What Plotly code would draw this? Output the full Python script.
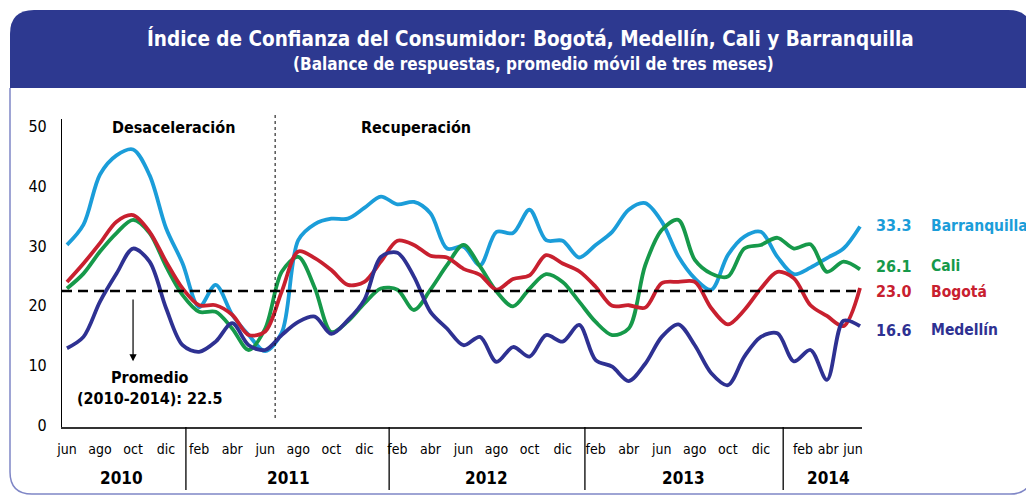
import plotly.graph_objects as go

# ---------------- data (3-month moving average, Jun-2010 .. Jun-2014) ----------------
periodos = [f"{y}-{m:02d}" for y in range(2010, 2015) for m in range(1, 13)
            if (y, m) >= (2010, 6) and (y, m) <= (2014, 6)]

barranquilla = [30.2, 33.6, 42.0, 45.2, 46.2, 41.9, 33.0, 27.1, 19.8, 23.5, 18.5, 15.1,
                12.4, 15.5, 31.0, 33.7, 34.6, 34.6, 36.4, 38.3, 37.0, 37.4, 35.5, 29.6,
                29.9, 26.8, 32.4, 32.2, 36.1, 31.0, 30.9, 28.1, 30.2, 32.4, 36.1, 37.2,
                34.1, 28.3, 24.6, 22.7, 28.5, 31.6, 32.4, 28.2, 25.3, 26.4, 28.0, 29.6,
                33.3]
bogota = [24.0, 27.1, 30.5, 34.1, 35.2, 32.4, 27.4, 22.9, 20.1, 20.1, 18.5, 15.1,
          15.7, 22.4, 29.1, 28.0, 26.0, 23.5, 24.0, 27.4, 30.9, 30.2, 28.4, 28.1,
          26.2, 25.2, 22.7, 24.5, 25.1, 28.5, 27.1, 25.8, 23.2, 20.0, 20.1, 19.7,
          23.8, 24.0, 24.0, 19.6, 16.9, 19.3, 22.9, 25.7, 24.6, 20.1, 18.3, 16.6,
          23.0]
cali = [22.9, 25.4, 29.1, 32.2, 34.4, 32.2, 26.6, 21.8, 19.0, 19.0, 16.2, 12.6,
        16.2, 25.7, 28.2, 23.0, 15.6, 17.4, 20.4, 22.9, 22.7, 19.3, 22.7, 26.8,
        30.2, 26.6, 22.4, 19.9, 22.9, 25.3, 24.0, 20.7, 17.3, 15.1, 16.2, 26.8,
        32.7, 34.4, 27.7, 25.4, 24.9, 29.6, 30.2, 31.4, 29.6, 30.3, 25.7, 27.4,
        26.1]
medellin = [12.9, 14.8, 20.7, 25.4, 29.6, 27.4, 19.6, 13.4, 12.3, 14.0, 17.1, 13.4,
            12.6, 15.1, 17.3, 18.2, 15.3, 17.6, 21.0, 28.2, 28.9, 24.9, 19.0, 16.2,
            13.4, 14.8, 10.6, 13.1, 11.5, 15.1, 14.0, 16.8, 10.9, 9.8, 7.4, 10.3,
            14.8, 16.9, 13.4, 8.7, 6.7, 11.5, 14.8, 15.4, 10.7, 12.6, 7.6, 17.5,
            16.6]
promedio = 22.5

series_names = ["Barranquilla", "Cali", "Bogotá", "Medellín"]
series_values = [barranquilla, cali, bogota, medellin]

mes_labels = (["jun", "ago", "oct", "dic"] + ["feb", "abr", "jun", "ago", "oct", "dic"] * 3
              + ["feb", "abr", "jun"])
anio_labels = ["2010", "2011", "2012", "2013", "2014"]

# ---------------- styling / layout helpers ----------------
colors = {"Barranquilla": "#1B9DD9", "Cali": "#16994A",
          "Bogotá": "#C8202F", "Medellín": "#2E3192"}
FONT = "'DejaVu Sans Condensed', 'Liberation Sans Narrow', 'Roboto Condensed', 'DejaVu Sans', sans-serif"
W, H = 1034, 498
OFF = 8  # default page body margin
PL, PT, PR, PB = 62, 119, 862, 427
L, T = PL - OFF, PT - OFF
R, B = W - (PR - OFF), H - (PB - OFF)
PW, PH = PR - PL, PB - PT


def X(px):
    return (px - PL) / PW


def Y(py):
    return (PB - py) / PH


xi = list(range(len(periodos)))

mes_pos = [0, 2, 4, 6] + [8 + 2 * k for k in range(18)] + [44.55, 46.07, 47.58]
anio_pos = [3.33, 13.4, 25.4, 37.3, 46.07]
sep_pos = [7.2, 19.5, 31.35, 43.35]

fig = go.Figure()
for name, vals in zip(series_names, series_values):
    fig.add_trace(go.Scatter(x=xi, y=vals, mode="lines", name=name,
                             line=dict(color=colors[name], width=3.8, shape="spline", smoothing=0.9),
                             hoverinfo="x+y+name"))

shapes = []
band = (f"M {X(10)},{Y(88)} L {X(10)},{Y(34)} Q {X(10)},{Y(10)} {X(34)},{Y(10)} "
        f"L {X(1008)},{Y(10)} Q {X(1032)},{Y(10)} {X(1032)},{Y(34)} L {X(1032)},{Y(88)} Z")
shapes.append(dict(type="path", xref="paper", yref="paper", path=band,
                   fillcolor="#2D3990", line=dict(width=0), layer="below"))
frame = (f"M {X(10)},{Y(88)} L {X(10)},{Y(472)} Q {X(10)},{Y(494)} {X(32)},{Y(494)} "
         f"L {X(1010)},{Y(494)} Q {X(1032)},{Y(494)} {X(1032)},{Y(472)} L {X(1032)},{Y(88)}")
shapes.append(dict(type="path", xref="paper", yref="paper", path=frame,
                   line=dict(color="#7F86C6", width=1.5), layer="below"))
shapes.append(dict(type="line", xref="paper", yref="y", x0=0, x1=1, y0=promedio, y1=promedio,
                   line=dict(color="black", width=2.5, dash="10px,6px")))
shapes.append(dict(type="line", xref="x", yref="paper", x0=12.6, x1=12.6, y0=Y(418), y1=Y(115),
                   line=dict(color="black", width=1, dash="dot")))
for s in sep_pos:
    shapes.append(dict(type="line", xref="x", yref="paper", x0=s, x1=s, y0=0, y1=Y(490),
                       line=dict(color="black", width=1.3)))


def txt(x, y, text, size, color="black", xref="paper", yref="paper", xanchor="center"):
    return dict(xref=xref, yref=yref, x=x, y=y, showarrow=False, text=text,
                xanchor=xanchor, yanchor="middle",
                font=dict(family=FONT, size=size, color=color))


ann = []
ann.append(txt(X(530), Y(38),
               "<b>Índice de Confianza del Consumidor: Bogotá, Medellín, Cali y Barranquilla</b>",
               20.5, "white"))
ann.append(txt(X(533), Y(64), "<b>(Balance de respuestas, promedio móvil de tres meses)</b>",
               17, "white"))
ann.append(txt(X(173), Y(127), "<b>Desaceleración</b>", 16))
ann.append(txt(X(416), Y(127), "<b>Recuperación</b>", 16))
ann.append(txt(X(150), Y(388), "<b>Promedio<br>(2010-2014): 22.5</b>", 16))
ann.append(dict(x=4.0, y=10.7, xref="x", yref="y", ax=4.0, ay=21.3, axref="x", ayref="y",
                text="", showarrow=True, arrowhead=2, arrowsize=1.2, arrowwidth=1.2,
                arrowcolor="black"))
for lab, p in zip(anio_labels, anio_pos):
    ann.append(txt(p, Y(478), f"<b>{lab}</b>", 17, xref="x"))
end_y = {"Barranquilla": 33.4, "Cali": 26.6, "Bogotá": 22.4, "Medellín": 15.9}
for name, vals in zip(series_names, series_values):
    ann.append(txt(X(874), end_y[name], f"<b>{vals[-1]:.1f}</b>", 16, colors[name],
                   yref="y", xanchor="left"))
    ann.append(txt(X(929), end_y[name], f"<b>{name}</b>", 15.5, colors[name],
                   yref="y", xanchor="left"))

fig.update_layout(
    width=W, height=H, margin=dict(l=L, r=R, t=T, b=B),
    paper_bgcolor="white", plot_bgcolor="white", showlegend=False,
    shapes=shapes, annotations=ann,
    xaxis=dict(range=[-0.3, 48.12], tickvals=mes_pos, ticktext=mes_labels,
               showgrid=False, zeroline=False, showline=True, linecolor="#333", linewidth=1.5,
               ticks="", ticklabelstandoff=8,
               tickfont=dict(family=FONT, size=14, color="black")),
    yaxis=dict(range=[-0.3, 51.3], tickvals=[0, 10, 20, 30, 40, 50],
               showgrid=False, zeroline=False, showline=True, linecolor="black", linewidth=1.2,
               ticks="", ticklabelstandoff=11,
               tickfont=dict(family=FONT, size=16, color="black")),
)

fig.write_html("out.html")
